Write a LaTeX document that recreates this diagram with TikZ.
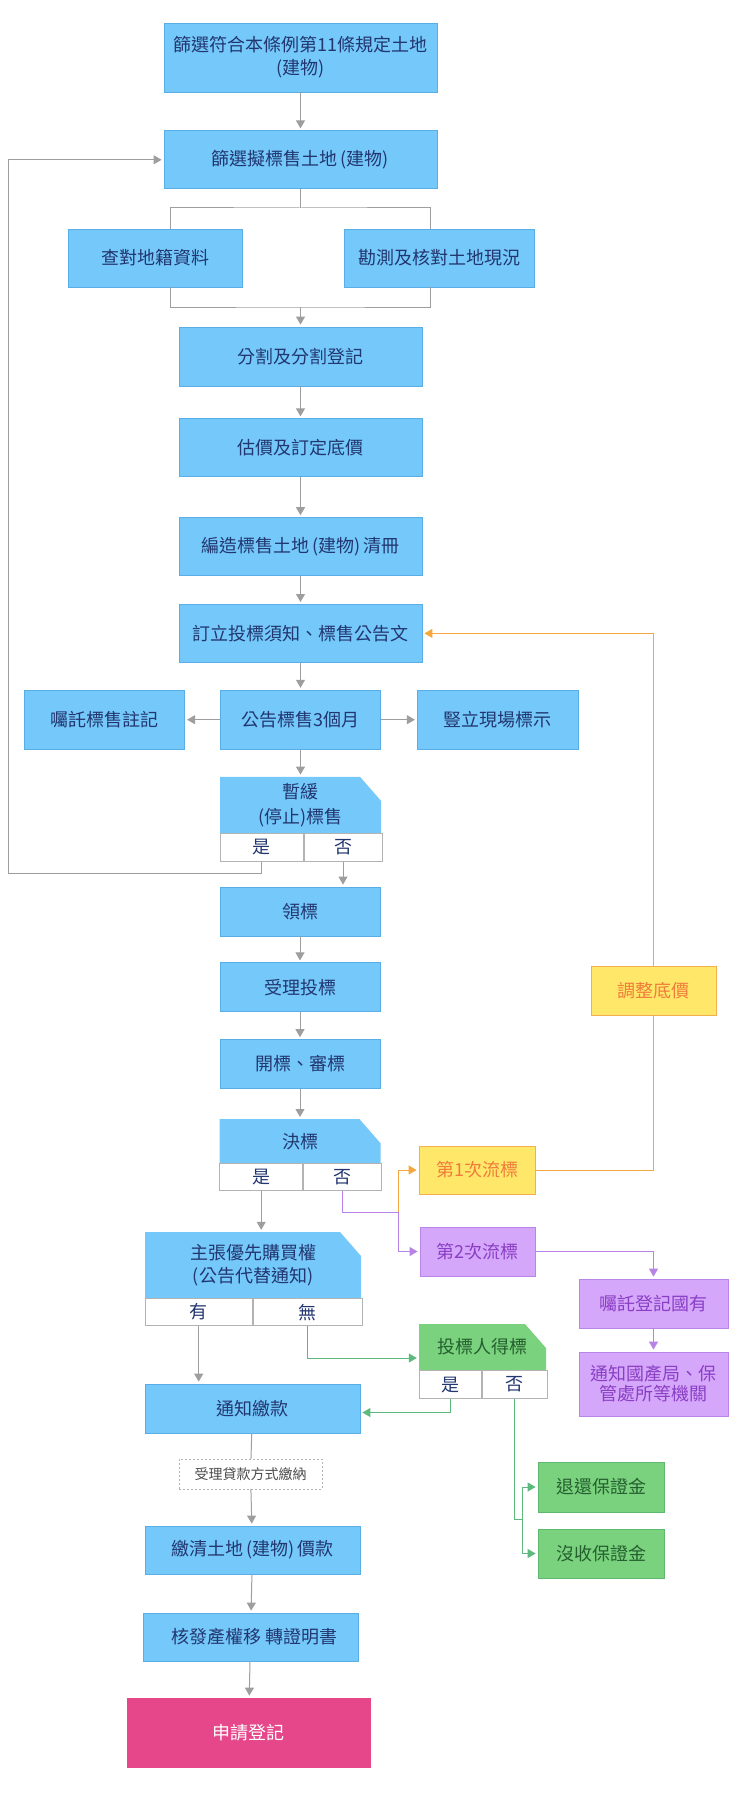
\documentclass[tikz,border=0pt]{standalone}
\usepackage{fontspec}
\newfontfamily\cjkfont{Noto Sans CJK TC}
\usetikzlibrary{arrows.meta,positioning}

\definecolor{bluefill}{HTML}{74C8FA}
\definecolor{blueline}{HTML}{5AAEE8}
\definecolor{bluetext}{HTML}{22366F}
\definecolor{yelfill}{HTML}{FFE76A}
\definecolor{yelline}{HTML}{F3AE4E}
\definecolor{yeltext}{HTML}{F07C3A}
\definecolor{purfill}{HTML}{D5A7FA}
\definecolor{purline}{HTML}{B985E8}
\definecolor{purtext}{HTML}{8A3EC4}
\definecolor{grnfill}{HTML}{7AD17E}
\definecolor{grnline}{HTML}{5DB96F}
\definecolor{grntext}{HTML}{24602E}
\definecolor{pinkfill}{HTML}{E5478A}
\definecolor{cellline}{HTML}{B3B3B3}
\definecolor{linkgray}{HTML}{9E9E9E}
\definecolor{linkorange}{HTML}{F4A83F}
\definecolor{linkpurple}{HTML}{B784E6}
\definecolor{linkgreen}{HTML}{5DB97E}

\begin{document}
\begin{tikzpicture}[
  x=1pt, y=-1pt,
  font=\cjkfont\fontsize{18}{23}\selectfont,
  box/.style={draw=blueline, fill=bluefill, text=bluetext, align=center, line width=0.8pt, inner sep=2pt},
  ybox/.style={box, draw=yelline, fill=yelfill, text=yeltext},
  pbox/.style={box, draw=purline, fill=purfill, text=purtext},
  gbox/.style={box, draw=grnline, fill=grnfill, text=grntext},
  head/.style={rectangle, align=center, text=bluetext, inner sep=2pt,
    path picture={\fill[#1] (path picture bounding box.south west) |- ([xshift=-21pt]path picture bounding box.north east)
      -- ([yshift=-24pt]path picture bounding box.north east) -- (path picture bounding box.south east) -- cycle;}},
  head/.default=bluefill,
  cell/.style={draw=cellline, fill=white, text=bluetext, line width=0.8pt, inner sep=0pt, anchor=north west},
  link/.style={draw=linkgray, line width=1pt},
  arr/.style={link, -{Triangle[length=8pt,width=9pt]}, shorten >=2pt},
  olink/.style={link, draw=linkorange},
  oarr/.style={arr, draw=linkorange},
  plink/.style={link, draw=linkpurple},
  parr/.style={arr, draw=linkpurple},
  glink/.style={link, draw=linkgreen},
  garr/.style={arr, draw=linkgreen}
]
\useasboundingbox (0,0) rectangle (740,1795);

% main column
\node[box, minimum width=273pt, minimum height=69pt] (scr) at (300.5,57.5) {篩選符合本條例第11條規定土地\\(建物)};
\node[box, minimum width=273pt, minimum height=58pt, below=38pt of scr] (sel) {篩選擬標售土地\,(建物)};
\node[box, minimum width=174pt, minimum height=58pt] (chk) at (155,258) {查對地籍資料};
\node[box, minimum width=190pt, minimum height=58pt] (svy) at (439,258) {勘測及核對土地現況};
\node[box, minimum width=243pt, minimum height=59pt] (cut) at (300.5,356.5) {分割及分割登記};
\node[box, minimum width=243pt, minimum height=58pt, below=32pt of cut] (val) {估價及訂定底價};
\node[box, minimum width=243pt, minimum height=58pt, below=40pt of val] (roll) {編造標售土地\,(建物)\,清冊};
\node[box, minimum width=243pt, minimum height=58pt, below=28pt of roll] (rule) {訂立投標須知、標售公告文};
\node[box, minimum width=160pt, minimum height=59pt, below=27pt of rule] (pub) {公告標售3個月};
\node[box, minimum width=160pt, minimum height=59pt, left=35pt of pub] (mark) {囑託標售註記};
\node[box, minimum width=161pt, minimum height=59pt, right=36pt of pub] (sign) {豎立現場標示};

% hold decision
\node[head, minimum width=161pt, minimum height=56pt, below=27pt of pub] (hold) {暫緩\\[2pt](停止)標售};
\node[cell, minimum width=83pt, minimum height=28pt] (holdy) at (hold.south west) {是};
\node[cell, minimum width=78pt, minimum height=28pt] (holdn) at (holdy.north east) {否};

\node[box, minimum width=160pt, minimum height=49pt] (take) at (300,911.5) {領標};
\node[box, minimum width=160pt, minimum height=49pt, below=26pt of take] (recv) {受理投標};
\node[box, minimum width=160pt, minimum height=49pt, below=27pt of recv] (open) {開標、審標};

% award decision
\node[head, minimum width=161pt, minimum height=44pt, below=30pt of open] (award) {決標};
\node[cell, minimum width=83pt, minimum height=27pt] (awardy) at (award.south west) {是};
\node[cell, minimum width=78pt, minimum height=27pt] (awardn) at (awardy.north east) {否};

% pre-emption decision
\node[head, minimum width=216pt, minimum height=66pt] (pref) at (253,1265) {主張優先購買權\\(公告代替通知)};
\node[cell, minimum width=107pt, minimum height=27pt] (prefy) at (pref.south west) {有};
\node[cell, minimum width=109pt, minimum height=27pt] (prefn) at (prefy.north east) {無};

\node[box, minimum width=215pt, minimum height=49pt] (pay) at (252.5,1408.5) {通知繳款};
\node[draw=cellline, dash pattern=on 2pt off 2pt, fill=white, text=black!70, font=\cjkfont\fontsize{14}{17}\selectfont,
  minimum width=143pt, minimum height=30pt] (loan) at (250.5,1474) {受理貸款方式繳納};
\node[box, minimum width=215pt, minimum height=48pt] (clear) at (252.5,1550) {繳清土地\,(建物)\,價款};
\node[box, minimum width=215pt, minimum height=48pt] (cert) at (250.5,1637) {\ \ 核發產權移 轉證明書};
\node[box, draw=pinkfill, fill=pinkfill, text=white, minimum width=243pt, minimum height=69pt] (apply) at (248.5,1732.5) {申請登記};

% right side
\node[ybox, minimum width=125pt, minimum height=49pt] (adjust) at (653.5,990.5) {調整底價};
\node[ybox, minimum width=116pt, minimum height=48pt] (fail1) at (477,1170) {第1次流標};
\node[pbox, minimum width=115pt, minimum height=49pt] (fail2) at (477.5,1251.5) {第2次流標};
\node[pbox, minimum width=149pt, minimum height=49pt] (reg) at (653.5,1303.5) {囑託登記國有};
\node[pbox, minimum width=149pt, minimum height=64pt, font=\cjkfont\fontsize{18}{20}\selectfont] (inform) at (653.5,1384) {通知國產局、保\\管處所等機關};

\node[head=grnfill, text=grntext, minimum width=127pt, minimum height=46pt] (bid) at (482.5,1347) {投標人得標};
\node[cell, minimum width=62pt, minimum height=28pt] (bidy) at (bid.south west) {是};
\node[cell, minimum width=65pt, minimum height=28pt] (bidn) at (bidy.north east) {否};
\node[gbox, minimum width=126pt, minimum height=50pt] (refund) at (601,1487) {退還保證金};
\node[gbox, minimum width=126pt, minimum height=49pt] (forfeit) at (601,1553.5) {沒收保證金};

% connectors
\coordinate (fork) at (300.5,208);
\coordinate (merge) at (300.5,307);
\draw[arr] (scr) -- (sel);
\draw[link] (sel) -- (fork);
\draw[link] ([xshift=15pt]chk.north) |- (fork) -| ([xshift=-9pt]svy.north);
\draw[link] ([xshift=15pt]chk.south) |- (merge) -| ([xshift=-9pt]svy.south);
\draw[arr] (merge) -- (cut);
\draw[arr] (cut) -- (val);
\draw[arr] (val) -- (roll);
\draw[arr] (roll) -- (rule);
\draw[arr] (rule) -- (pub);
\draw[arr] (pub) -- (mark);
\draw[arr] (pub) -- (sign);
\draw[arr] (pub) -- (hold);

\coordinate (back) at (8,873);
\draw[arr] (holdy.south) |- (back) |- (sel.west);
\draw[arr] (holdn.south) -- (holdn.south |- take.north);
\draw[arr] (take) -- (recv);
\draw[arr] (recv) -- (open);
\draw[arr] (open) -- (award);
\draw[arr] (awardy.south) -- (awardy.south |- pref.north);

\coordinate (lapse) at (398,1212);
\draw[plink] (awardn.south) |- (lapse);
\draw[oarr] (lapse) |- (fail1.west);
\draw[parr] (lapse) |- (fail2.west);
\draw[olink] (fail1.east) -| (adjust.south);
\draw[oarr] (adjust.north) |- (rule.east);
\draw[parr] (fail2.east) -| (reg.north);
\draw[parr] (reg) -- (inform);

\draw[arr] (prefy.south) -- (prefy.south |- pay.north);
\draw[garr] (prefn.south) |- ([yshift=-11pt]bid.west);
\draw[garr] (bidy.south) |- ([yshift=-4pt]pay.east);
\coordinate (split) at (522,1519);
\draw[glink] (bidn.south) |- (split);
\draw[garr] (split) |- (refund.west);
\draw[garr] (split) |- (forfeit.west);

\draw[link] (pay) -- (loan);
\draw[arr] (loan) -- (clear);
\draw[arr] (clear) -- (cert);
\draw[arr] (cert) -- (apply);
\end{tikzpicture}
\end{document}
